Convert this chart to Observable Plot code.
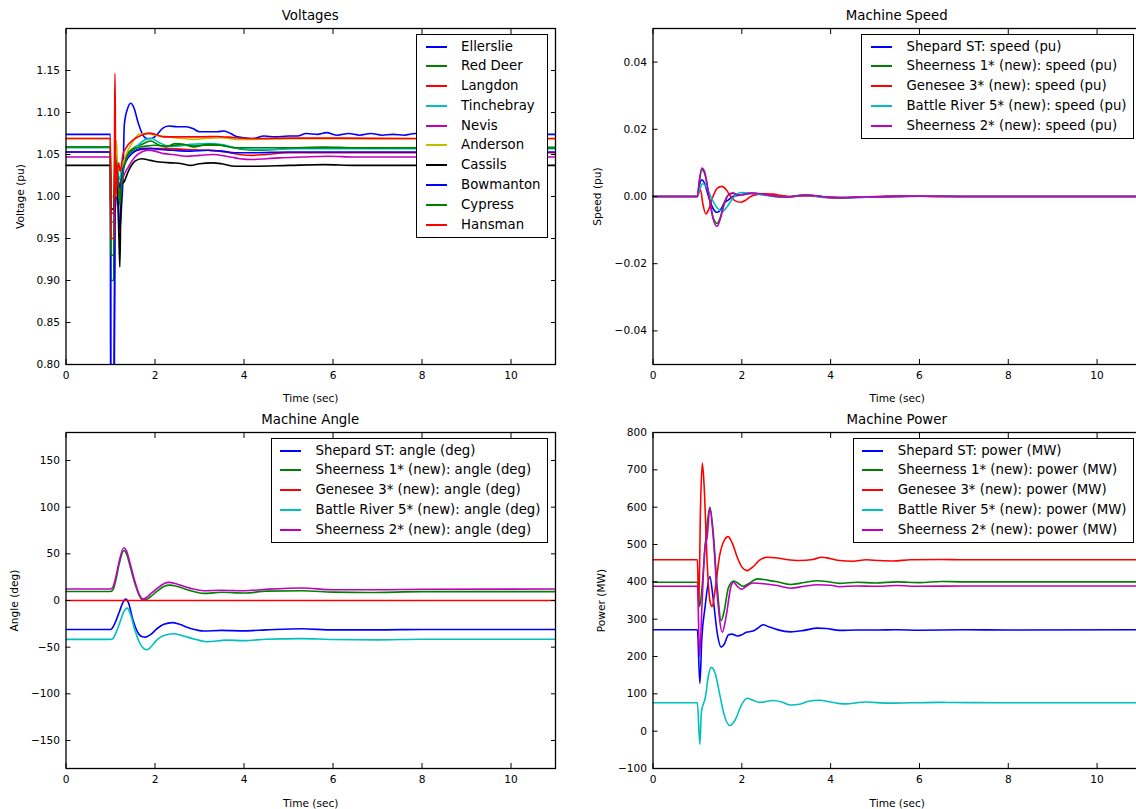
<!DOCTYPE html>
<html>
<head>
<meta charset="utf-8">
<script src="https://cdn.jsdelivr.net/npm/d3@7"></script>
<script src="https://cdn.jsdelivr.net/npm/@observablehq/plot@0.6"></script>
<style>
html, body { margin: 0; padding: 0; background: #fff; overflow: hidden; width: 1136px; height: 809px; }
body { position: relative; font-family: "DejaVu Sans", sans-serif; color: #000; }
.panel { position: absolute; }
.panel svg { max-width: none !important; display: block; }
.title { position: absolute; text-align: center; font-size: 13.33px; line-height: 15px; white-space: nowrap; }
.legend { position: absolute; background: #fff; border: 1px solid #000; padding: 1.5px 6px 3px 8.5px; font-size: 13.3px; }
.legend .row { height: 19.8px; line-height: 19.8px; white-space: nowrap; }
.legend .sw { display: inline-block; width: 21px; height: 0; border-top: 2px solid; vertical-align: middle; margin-right: 14.5px; }
</style>
</head>
<body>
<div id="root"></div>
<script>
// ---------- shared ----------
const xTicks = [0, 2, 4, 6, 8, 10];
const xLabel = "Time (sec)";

// ---------- Voltages ----------
const voltTitle = "Voltages";
const voltYLabel = "Voltage (pu)";
const voltTicks = [0.80, 0.85, 0.90, 0.95, 1.00, 1.05, 1.10, 1.15];
const voltNames = ["Ellerslie", "Red Deer", "Langdon", "Tinchebray", "Nevis", "Anderson", "Cassils", "Bowmanton", "Cypress", "Hansman"];
const voltColors = ["#0000ff", "#008000", "#ff0000", "#00bfbf", "#bf00bf", "#bfbf00", "#000000", "#0000ff", "#008000", "#ff0000"];
const voltEllerslie = [[0,1.074],[1.0,1.074],[1.005,0.70],[1.07,0.70],[1.1,0.98],[1.15,1.0],[1.18,0.99],[1.21,0.96],[1.25,0.99],[1.28,1.02],[1.31,1.085],[1.38,1.104],[1.46,1.111],[1.53,1.105],[1.62,1.088],[1.72,1.074],[1.82,1.069],[1.92,1.069],[2.05,1.074],[2.17,1.081],[2.3,1.084],[2.5,1.083],[2.7,1.083],[2.85,1.081],[3.0,1.077],[3.2,1.077],[3.4,1.077],[3.55,1.078],[3.7,1.075],[3.85,1.071],[4.0,1.070],[4.2,1.069],[4.45,1.072],[4.7,1.071],[5.0,1.072],[5.2,1.072],[5.4,1.075],[5.65,1.074],[5.85,1.076],[6.1,1.073],[6.35,1.075],[6.6,1.073],[6.85,1.075],[7.1,1.073],[7.35,1.074],[7.6,1.073],[7.85,1.075],[8.1,1.074],[8.6,1.074],[9.5,1.074],[11,1.074]];
const voltRedDeer = [[0,1.059],[1.0,1.059],[1.005,0.90],[1.07,0.90],[1.09,1.05],[1.13,1.04],[1.2,1.0],[1.25,1.03],[1.35,1.048],[1.5,1.057],[1.7,1.062],[1.9,1.066],[2.1,1.061],[2.25,1.059],[2.45,1.063],[2.65,1.062],[2.85,1.059],[3.1,1.061],[3.4,1.061],[3.7,1.059],[4.0,1.056],[4.3,1.055],[4.7,1.056],[5.2,1.058],[5.8,1.059],[6.5,1.058],[7.5,1.058],[9,1.0585],[11,1.0585]];
const voltLangdon = [[0,1.053],[1.0,1.053],[1.005,0.97],[1.07,0.97],[1.1,1.04],[1.15,1.03],[1.2,1.01],[1.26,1.03],[1.35,1.047],[1.5,1.053],[1.7,1.056],[2.0,1.057],[2.3,1.057],[2.7,1.056],[3.2,1.055],[3.6,1.053],[3.9,1.050],[4.2,1.049],[4.5,1.050],[5.0,1.052],[6,1.052],[8,1.052],[11,1.052]];
const voltTinchebray = [[0,1.058],[1.0,1.058],[1.005,0.97],[1.07,0.97],[1.1,1.05],[1.15,1.04],[1.2,1.02],[1.27,1.035],[1.4,1.048],[1.6,1.06],[1.8,1.068],[1.92,1.069],[2.1,1.064],[2.3,1.060],[2.5,1.060],[2.8,1.062],[3.2,1.063],[3.5,1.062],[3.8,1.058],[4.2,1.056],[4.6,1.056],[5.2,1.057],[6,1.057],[8,1.057],[11,1.057]];
const voltNevis = [[0,1.047],[1.0,1.047],[1.005,0.98],[1.07,0.98],[1.1,1.03],[1.15,1.02],[1.21,1.0],[1.27,1.02],[1.4,1.035],[1.55,1.047],[1.7,1.053],[1.85,1.055],[2.0,1.054],[2.2,1.051],[2.4,1.050],[2.7,1.048],[3.0,1.049],[3.3,1.050],[3.6,1.048],[3.9,1.045],[4.2,1.044],[4.5,1.045],[4.8,1.046],[5.3,1.047],[5.9,1.048],[6.5,1.047],[8,1.047],[11,1.047]];
const voltAnderson = [[0,1.069],[1.0,1.069],[1.005,1.0],[1.08,1.0],[1.1,1.067],[1.13,1.066],[1.17,1.03],[1.25,1.035],[1.35,1.05],[1.5,1.065],[1.65,1.0745],[1.8,1.075],[2.0,1.073],[2.3,1.071],[2.6,1.069],[2.9,1.068],[3.2,1.0695],[3.5,1.070],[3.8,1.068],[4.2,1.068],[5,1.0688],[11,1.0688]];
const voltCassils = [[0,1.037],[1.0,1.037],[1.005,0.985],[1.07,0.985],[1.1,1.02],[1.15,1.01],[1.19,0.95],[1.21,0.916],[1.23,0.98],[1.26,1.015],[1.3,1.017],[1.4,1.03],[1.55,1.042],[1.7,1.045],[1.9,1.043],[2.1,1.041],[2.4,1.040],[2.6,1.039],[2.8,1.037],[3.0,1.039],[3.3,1.040],[3.5,1.039],[3.8,1.036],[4.2,1.036],[5,1.037],[5.8,1.038],[6.5,1.037],[8,1.037],[11,1.037]];
const voltBowmanton = [[0,1.053],[1.0,1.053],[1.005,0.70],[1.08,0.70],[1.1,0.99],[1.13,1.03],[1.17,1.02],[1.22,1.01],[1.27,1.03],[1.35,1.042],[1.5,1.052],[1.7,1.057],[1.9,1.0575],[2.1,1.056],[2.4,1.055],[2.8,1.054],[3.2,1.055],[3.5,1.054],[3.8,1.052],[4.2,1.052],[5,1.053],[6,1.053],[8,1.053],[11,1.053]];
const voltCypress = [[0,1.059],[1.0,1.059],[1.005,0.93],[1.07,0.93],[1.1,1.045],[1.15,1.035],[1.21,0.99],[1.26,1.02],[1.4,1.05],[1.6,1.058],[1.8,1.06],[2.0,1.061],[2.3,1.060],[2.6,1.062],[2.9,1.060],[3.2,1.062],[3.5,1.061],[3.8,1.058],[4.2,1.058],[5,1.058],[6,1.058],[8,1.0577],[11,1.0577]];
const voltHansman = [[0,1.069],[1.0,1.069],[1.005,0.95],[1.085,0.95],[1.095,1.146],[1.105,1.146],[1.115,1.0],[1.14,1.02],[1.18,1.04],[1.22,1.03],[1.28,1.05],[1.35,1.058],[1.5,1.067],[1.7,1.073],[1.87,1.0755],[2.0,1.074],[2.2,1.071],[2.5,1.071],[3.0,1.071],[3.4,1.0715],[3.8,1.070],[4.2,1.069],[5,1.0695],[6,1.0695],[8,1.069],[11,1.069]];

// ---------- Machine Speed ----------
const speedTitle = "Machine Speed";
const speedYLabel = "Speed (pu)";
const speedTicks = [-0.04, -0.02, 0.00, 0.02, 0.04];
const machNames = ["Shepard ST", "Sheerness 1* (new)", "Genesee 3* (new)", "Battle River 5* (new)", "Sheerness 2* (new)"];
const machColors = ["#0000ff", "#008000", "#ff0000", "#00bfbf", "#bf00bf"];
const speedShepard = [[0,0],[1.0,0],[1.04,0.003],[1.1,0.005],[1.16,0.004],[1.25,0.0],[1.35,-0.0035],[1.44,-0.0047],[1.52,-0.004],[1.6,-0.002],[1.7,-0.001],[1.8,0.0],[1.9,0.0003],[2.0,0.0006],[2.2,0.0009],[2.4,0.0008],[2.6,0.0005],[2.8,0.0],[3.0,-0.0002],[3.2,0.0001],[3.4,0.0004],[3.6,0.0003],[3.9,-0.0002],[4.2,-0.0004],[4.6,-0.0003],[5,-0.0001],[5.5,0],[6,0.0002],[6.5,0.0001],[7,0],[11,0]];
const speedSheer1 = [[0,0],[1.0,0],[1.04,0.004],[1.1,0.008],[1.16,0.007],[1.25,0.001],[1.35,-0.006],[1.44,-0.008],[1.52,-0.006],[1.6,-0.002],[1.7,0.0005],[1.8,0.001],[1.9,0.0005],[2.0,0.0005],[2.2,0.001],[2.4,0.0008],[2.6,0.0004],[2.8,0.0],[3.0,-0.0002],[3.2,0.0001],[3.4,0.0004],[3.6,0.0003],[3.9,-0.0002],[4.2,-0.0003],[4.6,-0.0002],[5,-0.0001],[6,0.0001],[7,0],[11,0]];
const speedGenesee = [[0,0],[1.0,0],[1.04,0.0015],[1.07,0.002],[1.12,-0.002],[1.19,-0.0052],[1.25,-0.004],[1.35,0.0],[1.45,0.0025],[1.55,0.003],[1.65,0.002],[1.75,0.0],[1.85,-0.0013],[1.98,-0.0017],[2.1,-0.001],[2.2,0.0],[2.35,0.0006],[2.5,0.0008],[2.7,0.0007],[2.9,0.0003],[3.1,0.0],[3.3,0.0002],[3.5,0.0002],[3.8,-0.0002],[4.2,-0.0004],[4.6,-0.0002],[5,0],[5.8,0.0002],[6.5,0],[11,0]];
const speedBattle = [[0,0],[1.0,0],[1.05,0.002],[1.12,0.0038],[1.2,0.003],[1.3,0.0],[1.45,-0.0035],[1.57,-0.0044],[1.67,-0.003],[1.8,-0.0005],[1.9,0.0008],[2.0,0.0012],[2.2,0.001],[2.4,0.0006],[2.6,0.0002],[2.8,-0.0001],[3.0,-0.0001],[3.2,0.0002],[3.4,0.0004],[3.6,0.0002],[3.9,-0.0003],[4.3,-0.0003],[4.8,-0.0002],[5.5,0],[6,0.0002],[7,0],[11,0]];
const speedSheer2 = [[0,0],[1.0,0],[1.04,0.0045],[1.1,0.0085],[1.16,0.0075],[1.25,0.001],[1.35,-0.0065],[1.44,-0.0089],[1.52,-0.0065],[1.6,-0.0025],[1.7,0.0005],[1.8,0.001],[1.9,0.0005],[2.0,0.0005],[2.2,0.001],[2.4,0.0008],[2.6,0.0004],[2.8,0.0],[3.0,-0.0002],[3.2,0.0001],[3.4,0.0004],[3.6,0.0003],[3.9,-0.0002],[4.2,-0.0003],[4.6,-0.0002],[5,-0.0001],[6,0.0001],[7,0],[11,0]];

// ---------- Machine Angle ----------
const angleTitle = "Machine Angle";
const angleYLabel = "Angle (deg)";
const angleTicks = [-150, -100, -50, 0, 50, 100, 150];
const angleShepard = [[0,-31],[1.0,-31],[1.05,-29],[1.12,-22],[1.2,-12],[1.28,-2],[1.34,1.5],[1.4,-2],[1.5,-20],[1.6,-33],[1.7,-38.5],[1.79,-39.2],[1.9,-36.5],[2.05,-30],[2.2,-25.5],[2.39,-23.7],[2.55,-25.5],[2.8,-30],[3.1,-32.7],[3.5,-32],[4,-32.5],[4.5,-31.5],[5.3,-30.3],[6,-31.5],[7,-31.5],[8,-31],[11,-31]];
const angleSheer1 = [[0,9.7],[1.0,9.7],[1.06,12],[1.12,22],[1.2,40],[1.3,53.6],[1.36,50],[1.45,35],[1.55,18],[1.65,5],[1.73,0.4],[1.8,1],[1.9,4],[2.05,10],[2.2,15],[2.33,16.5],[2.5,15],[2.8,10.5],[3.1,7.6],[3.5,8.8],[4,8],[4.5,10],[5.3,10.5],[6,9],[6.8,8.5],[8,9.5],[11,9.5]];
const angleGenesee = [[0,0],[11,0]];
const angleBattle = [[0,-41.7],[1.0,-41.7],[1.05,-41],[1.12,-35],[1.2,-25],[1.3,-12],[1.375,-8.2],[1.45,-15],[1.55,-32],[1.65,-45],[1.75,-51.5],[1.82,-52.8],[1.92,-49],[2.05,-42],[2.2,-37.5],[2.42,-35.6],[2.6,-37.5],[2.9,-41.5],[3.17,-44.2],[3.6,-42.5],[4,-43],[4.5,-41.5],[5.3,-40.8],[6,-41.8],[7,-42.2],[8,-41.5],[11,-41.5]];
const angleSheer2 = [[0,12.3],[1.0,12.3],[1.06,15],[1.12,25],[1.2,43],[1.3,56.5],[1.36,53],[1.45,38],[1.55,20],[1.65,6],[1.73,1.5],[1.8,3],[1.9,7],[2.05,13],[2.2,18],[2.31,19.4],[2.5,17.5],[2.8,13],[3.1,10.5],[3.5,11],[4,10.5],[4.5,12],[5.3,13.4],[6,11.5],[7,11.5],[8,12],[11,12.3]];

// ---------- Machine Power ----------
const powerTitle = "Machine Power";
const powerYLabel = "Power (MW)";
const powerTicks = [-100, 0, 100, 200, 300, 400, 500, 600, 700, 800];
const powerShepard = [[0,271.6],[1.0,271.6],[1.055,128],[1.1,250],[1.17,330],[1.28,414],[1.35,360],[1.45,260],[1.535,225],[1.6,232],[1.7,258],[1.78,260],[1.9,255],[2.0,258],[2.1,265],[2.25,268],[2.35,275],[2.48,285],[2.6,280],[2.8,272],[3.1,266],[3.4,270],[3.7,276],[3.9,275],[4.2,270],[4.6,271],[5,271],[5.5,271.5],[6,270.5],[7,271.5],[8,271],[11,271.5]];
const powerSheer1 = [[0,399],[1.0,399],[1.05,334],[1.1,380],[1.17,490],[1.28,600],[1.35,540],[1.45,380],[1.535,296],[1.6,320],[1.7,385],[1.82,402],[1.93,395],[2.03,388],[2.15,395],[2.35,408],[2.6,404],[2.8,400],[3.1,393],[3.4,398],[3.7,403],[3.9,401],[4.2,396],[4.6,399],[5,397],[5.5,400],[6,398],[6.5,401],[7,400],[8,400],[11,400]];
const powerGenesee = [[0,459],[1.0,459],[1.03,332],[1.07,600],[1.11,718],[1.15,660],[1.22,450],[1.28,350],[1.33,334],[1.4,380],[1.5,470],[1.6,510],[1.69,521],[1.78,505],[1.9,465],[2.0,440],[2.12,430],[2.25,440],[2.4,458],[2.57,466],[2.8,464],[3.0,460],[3.3,457],[3.6,460],[3.8,466],[4.0,462],[4.2,457],[4.5,455],[4.8,459],[5.1,457],[5.4,456],[5.8,459],[6.5,460],[7,459],[8,459],[11,459]];
const powerBattle = [[0,76],[1.0,76],[1.055,-35],[1.09,51],[1.18,91],[1.25,150],[1.31,171],[1.4,155],[1.5,100],[1.6,45],[1.73,15],[1.85,30],[2.0,72],[2.12,88],[2.25,83],[2.4,77],[2.7,82],[2.9,78],[3.1,70],[3.3,72],[3.5,80],[3.75,83],[4.0,78],[4.3,73],[4.8,78],[5.3,75],[5.8,76],[6.5,77],[8,76],[11,76]];
const powerSheer2 = [[0,388],[1.0,388],[1.05,200],[1.1,330],[1.17,493],[1.22,520],[1.28,598],[1.35,530],[1.45,360],[1.56,265],[1.65,310],[1.75,385],[1.81,399],[1.9,388],[1.99,380],[2.1,388],[2.25,397],[2.5,395],[2.8,390],[3.1,383],[3.4,388],[3.7,392],[4.0,391],[4.2,387],[4.6,389],[5,388],[5.5,390],[6,388],[7,389],[8,389],[11,389]];

// ---------- builder ----------
function makePanel(cfg) {
  const div = document.createElement("div");
  div.className = "panel";
  Object.assign(div.style, {left: cfg.left + "px", top: cfg.top + "px", width: cfg.width + "px", height: cfg.height + "px"});
  const rows = cfg.series.flatMap((s, i) => s.map(([t, v]) => ({t, v, name: cfg.names[i]})));
  const blank = () => "";
  const svg = Plot.plot({
    width: cfg.width, height: cfg.height,
    marginLeft: cfg.ml, marginRight: cfg.mr, marginTop: cfg.mt, marginBottom: cfg.mb,
    style: {fontFamily: '"DejaVu Sans", sans-serif', fontSize: "10.6px", color: "#000", background: "none", maxWidth: "none"},
    x: {domain: [0, 11]},
    y: {domain: cfg.yDomain},
    color: {domain: cfg.names, range: cfg.colors},
    marks: [
      Plot.line(rows, {x: "t", y: "v", z: "name", stroke: "name", strokeWidth: 1.6, curve: "monotone-x", clip: true}),
      Plot.axisX(xTicks, {anchor: "bottom", tickSize: -5, tickPadding: 12, tickFormat: d => String(d), label: xLabel, labelAnchor: "center", labelArrow: "none", labelOffset: cfg.xlo}),
      Plot.axisX(xTicks, {anchor: "top", tickSize: -5, tickFormat: blank, label: null}),
      Plot.axisY(cfg.yTicks, {anchor: "left", tickSize: -5, tickPadding: 11, tickFormat: cfg.fmt, label: cfg.ylabel, labelAnchor: "center", labelArrow: "none", labelOffset: cfg.ylo}),
      Plot.axisY(cfg.yTicks, {anchor: "right", tickSize: -5, tickFormat: blank, label: null}),
      Plot.frame({stroke: "#000", strokeWidth: 1.3})
    ]
  });
  div.appendChild(svg);
  const title = document.createElement("div");
  title.className = "title";
  title.textContent = cfg.title;
  Object.assign(title.style, {left: cfg.ml + "px", width: (cfg.width - cfg.ml - cfg.mr) + "px", top: cfg.titleTop + "px"});
  div.appendChild(title);
  const leg = document.createElement("div");
  leg.className = "legend";
  Object.assign(leg.style, {right: (cfg.mr + 7.5) + "px", top: (cfg.mt + 6) + "px"});
  cfg.names.forEach((n, i) => {
    const r = document.createElement("div");
    r.className = "row";
    const sw = document.createElement("span");
    sw.className = "sw";
    sw.style.borderTopColor = cfg.colors[i];
    r.appendChild(sw);
    r.appendChild(document.createTextNode(n + cfg.suffix));
    leg.appendChild(r);
  });
  div.appendChild(leg);
  document.getElementById("root").appendChild(div);
}

const f2 = d3.format(".2f");
const fInt = d3.format("d");

makePanel({left: 0, top: 0, width: 577, height: 410, ml: 65.5, mr: 22, mt: 28, mb: 46, titleTop: 7.5,
  yDomain: [0.8, 1.2], yTicks: voltTicks, fmt: f2, ylabel: voltYLabel, ylo: 50, xlo: 37, title: voltTitle,
  names: voltNames, colors: voltColors, suffix: "",
  series: [voltEllerslie, voltRedDeer, voltLangdon, voltTinchebray, voltNevis, voltAnderson, voltCassils, voltBowmanton, voltCypress, voltHansman]});

makePanel({left: 577, top: 0, width: 577, height: 410, ml: 75.5, mr: 13, mt: 28, mb: 46, titleTop: 7.5,
  yDomain: [-0.05, 0.05], yTicks: speedTicks, fmt: f2, ylabel: speedYLabel, ylo: 60, xlo: 37, title: speedTitle,
  names: machNames, colors: machColors, suffix: ": speed (pu)",
  series: [speedShepard, speedSheer1, speedGenesee, speedBattle, speedSheer2]});

makePanel({left: 0, top: 410, width: 577, height: 399, ml: 65.5, mr: 22, mt: 22, mb: 41, titleTop: 1.5,
  yDomain: [-180, 180], yTicks: angleTicks, fmt: fInt, ylabel: angleYLabel, ylo: 56, xlo: 38, title: angleTitle,
  names: machNames, colors: machColors, suffix: ": angle (deg)",
  series: [angleShepard, angleSheer1, angleGenesee, angleBattle, angleSheer2]});

makePanel({left: 577, top: 410, width: 577, height: 399, ml: 75.5, mr: 13, mt: 22, mb: 41, titleTop: 1.5,
  yDomain: [-100, 800], yTicks: powerTicks, fmt: fInt, ylabel: powerYLabel, ylo: 56, xlo: 38, title: powerTitle,
  names: machNames, colors: machColors, suffix: ": power (MW)",
  series: [powerShepard, powerSheer1, powerGenesee, powerBattle, powerSheer2]});
</script>
</body>
</html>
